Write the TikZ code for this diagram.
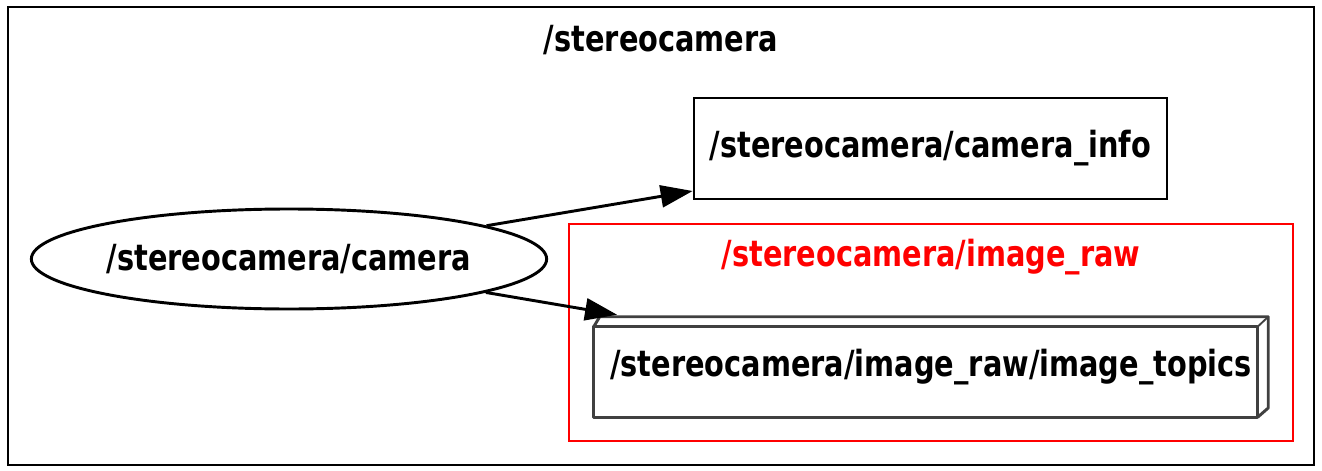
\documentclass[tikz,border=0pt]{standalone}
\usepackage{fontspec}
\usepackage{xcolor}
\usepackage{tikz}
\usetikzlibrary{arrows.meta,positioning,shapes.geometric,calc}

\newfontfamily\gvfont[FakeStretch=0.8]{DejaVu Sans Bold}
\definecolor{boxgray}{HTML}{404040}

\begin{document}
\begin{tikzpicture}[
    x=0.75pt, y=-0.75pt,
    label/.style={font=\gvfont\fontsize{27}{30}\selectfont, inner sep=0pt},
    cluster/.style={line width=1.6pt},
    topic/.style={rectangle, draw, line width=2pt, minimum width=354.75pt, minimum height=75.75pt, label},
    nodeell/.style={ellipse, draw, line width=2.2pt, minimum width=382.5pt, minimum height=75pt, label},
    topicbox/.style={rectangle, minimum width=505.5pt, minimum height=75pt, label},
    arrow/.style={-{Triangle[length=24pt, width=16.5pt]}, line width=2.2pt}
]
\useasboundingbox (0,0) rectangle (1322,471);

% clusters
\draw[cluster] (8,7) rectangle (1314,465);
\node[label] (nsname) at (661,40) {/stereocamera};
\draw[cluster, red] (569,224) rectangle (1293,441);
\node[label, text=red] (rawname) at (931,257) {/stereocamera/image\_raw};

% nodes
\node[nodeell] (cam) at (289,259) {/stereocamera/camera};
\node[topic] (info) at (930.5,148.5) {/stereocamera/camera\_info};
\node[topicbox] (topics) at (931,367) {/stereocamera/image\_raw/image\_topics};

% box3d outline
\draw[boxgray, line width=2.2pt, line join=round]
  (topics.south west) rectangle ([xshift=-8pt, yshift=-7.5pt]topics.north east);
\draw[boxgray, line width=2.2pt, line join=round]
  ([yshift=-7.5pt]topics.north west) -- ([xshift=4.5pt]topics.north west)
  -- (topics.north east) -- ([yshift=7pt]topics.south east)
  -- ([xshift=-8pt]topics.south east);
\draw[boxgray, line width=1.4pt]
  ([xshift=-8pt, yshift=-7.5pt]topics.north east) -- (topics.north east);

% edges
\coordinate (infoin) at ([yshift=7pt]info.south west);
\coordinate (topicsin) at ([xshift=17.5pt, yshift=1.5pt]topics.north west);
\draw[arrow] (cam) -- (infoin);
\draw[arrow] (cam) -- (topicsin);
\end{tikzpicture}
\end{document}
